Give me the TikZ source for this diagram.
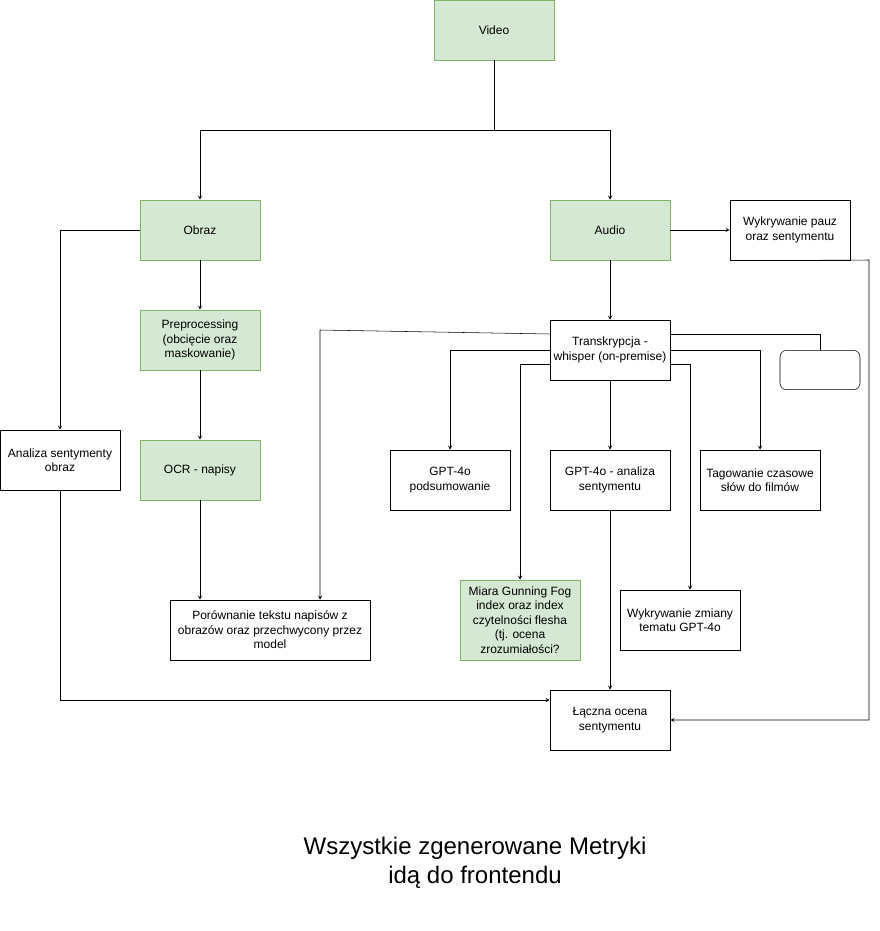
\documentclass[tikz,border=0pt]{standalone}
\usepackage{fontspec}
\setmainfont{Liberation Sans}
\usepackage{xcolor}
\usetikzlibrary{arrows,positioning,calc}

\definecolor{greenfill}{HTML}{D5E8D4}
\definecolor{greenline}{HTML}{82B366}

\begin{document}
\begin{tikzpicture}[x=0.75pt, y=-0.75pt, >=stealth,
  font=\fontsize{9}{10.8}\selectfont,
  box/.style={draw, fill=white, align=center, minimum width=90pt, minimum height=45pt, inner sep=2pt},
  greenbox/.style={box, draw=greenline, fill=greenfill}]
\useasboundingbox (0,0) rectangle (879,931);

\node[greenbox] (video) at (494,30) {Video};
\node[greenbox] (obraz) at (200,230) {Obraz};
\node[greenbox] (audio) at (610,230) {Audio};
\node[box] (pauzy) at (790,230) {Wykrywanie pauz\\oraz sentymentu};
\node[greenbox] (prep) at (200,340) {Preprocessing\\(obcięcie oraz\\maskowanie)};
\node[box] (trans) at (610,350) {Transkrypcja -\\whisper (on-premise)};
\node[draw, fill=white, rounded corners=5pt, minimum width=60pt, minimum height=29.5pt] (pusty) at (820,370) {};
\node[box] (analobraz) at (60,460) {Analiza sentymenty\\obraz};
\node[greenbox] (ocr) at (200,470) {OCR - napisy};
\node[box] (podsum) at (450,480) {GPT-4o\\podsumowanie};
\node[box] (analsent) at (610,480) {GPT-4o - analiza\\sentymentu};
\node[box] (tagi) at (760,480) {Tagowanie czasowe\\słów do filmów};
\node[greenbox, minimum height=60pt] (miara) at (520,620) {Miara Gunning Fog\\index oraz index\\czytelności flesha\\(tj. ocena\\zrozumiałości?};
\node[box, minimum width=150pt] (porown) at (270,630) {Porównanie tekstu napisów z\\obrazów oraz przechwycony przez\\model};
\node[box] (zmiana) at (680,620) {Wykrywanie zmiany\\tematu GPT-4o};
\node[box] (laczna) at (610,720) {Łączna ocena\\sentymentu};

\node[font=\fontsize{18}{22}\selectfont, align=center] (opis) at (475,863) {Wszystkie zgenerowane Metryki\\idą do frontendu};

% video -> obraz / audio
\draw[->] (video.south) -- (494,130) -| (obraz.north);
\draw[->] (video.south) -- (494,130) -| (audio.north);

% obraz branch
\draw[->] (obraz.west) -| (analobraz.north);
\draw[->] (obraz) -- (prep);
\draw[->] (prep) -- (ocr);
\draw[->] (ocr.south) -- (ocr.south |- porown.north);
\draw[->] (analobraz.south) |- ([yshift=15pt]laczna.west);

% audio branch
\draw[->] (audio) -- (pauzy);
\draw[->] (audio) -- (trans);
\draw[->] ([xshift=22.5pt]pauzy.south) -- (869,260) |- (laczna.east);

% transkrypcja outputs
\draw[->] ([yshift=12pt]trans.west) -- (320,330) -- ([xshift=37.5pt]porown.north);
\draw[->] (trans.west) -| (podsum.north);
\draw[->] ([yshift=-10.5pt]trans.west) -| (miara.north);
\draw[->] (trans) -- (analsent);
\draw ([yshift=12pt]trans.east) -| (pusty.north);
\draw[->] (trans.east) -| (tagi.north);
\draw[->] ([yshift=-10.5pt]trans.east) -| ([xshift=7.5pt]zmiana.north);
\draw[->] (analsent) -- (laczna);
\end{tikzpicture}
\end{document}
